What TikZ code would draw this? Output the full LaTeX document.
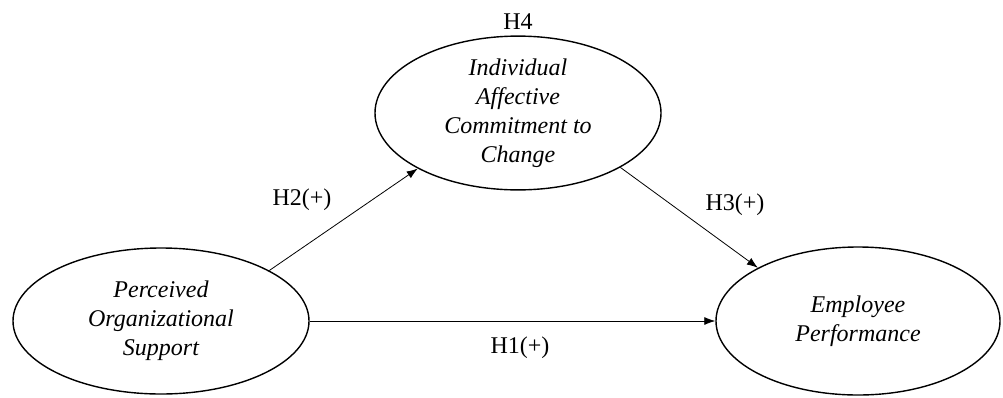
\documentclass[tikz,border=0pt]{standalone}
\usepackage{fontspec}
\setmainfont{Liberation Serif}
\usetikzlibrary{arrows.meta,shapes.geometric}

\newcommand{\labelsize}{\fontsize{24}{29}\selectfont}
\tikzset{
	construct/.style={draw, ellipse, line width=1.4pt, inner sep=0pt, align=center, font=\labelsize\itshape, execute at begin node=\rule{0pt}{28.5pt}},
	hyp/.style={font=\labelsize},
}

\begin{document}
\begin{tikzpicture}[x=1pt, y=-1pt, -{Latex[length=11pt,width=8pt]}, line width=0.8pt]
	\useasboundingbox (0,0) rectangle (1003,397);
	% constructs
	\node[construct, minimum width=296pt, minimum height=146pt] (poc) at (161,321) {Perceived\\Organizational\\Support};
	\node[construct, minimum width=286pt, minimum height=148pt] (iac) at (518,113) {Individual\\Affective\\Commitment to\\Change};
	\node[construct, minimum width=284pt, minimum height=148pt] (emp) at (858,321) {Employee\\Performance};
	% paths
	\draw (poc.25) -- (iac.209);
	\draw (iac.-28) -- (emp.152);
	\draw (poc.east) -- (emp.west);
	% hypotheses
	\node[hyp] (h4) at (518,22) {H4};
	\node[hyp] (h2) at (302,200) {H2(+)};
	\node[hyp] (h3) at (735,205) {H3(+)};
	\node[hyp] (h1) at (520,348) {H1(+)};
\end{tikzpicture}
\end{document}
